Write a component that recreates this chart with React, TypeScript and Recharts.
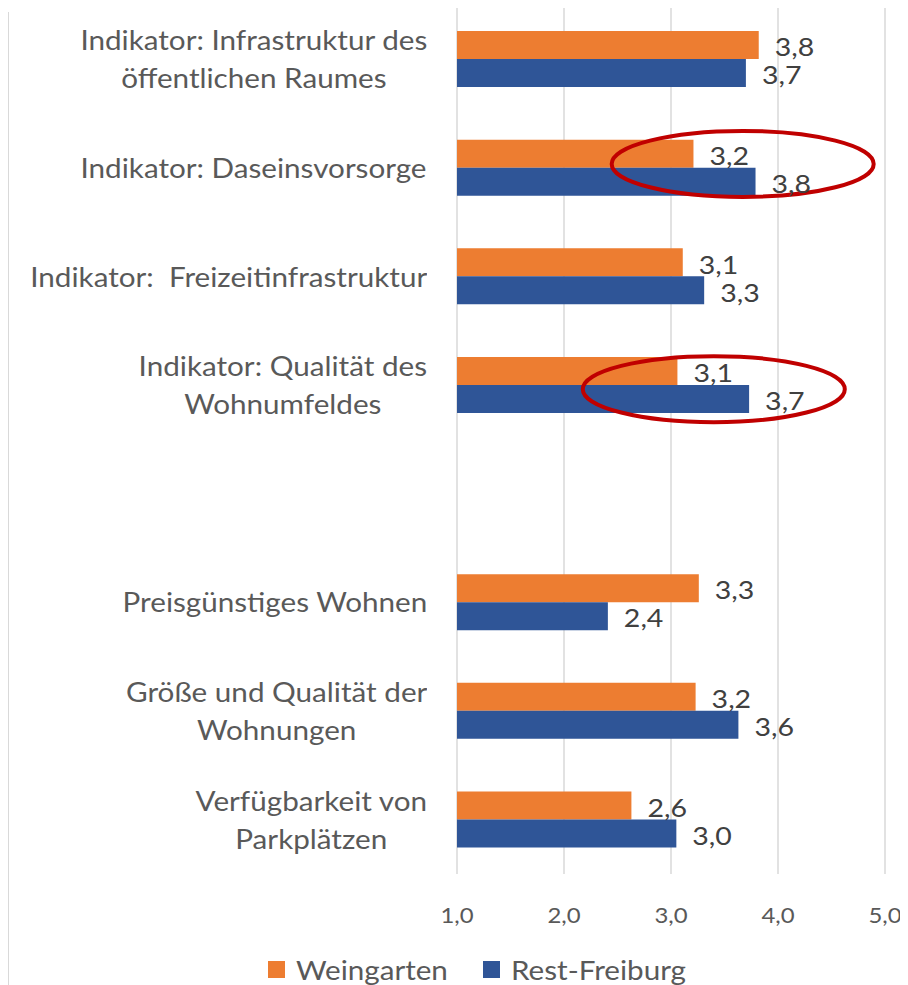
import React from 'react';
import { BarChart, Bar, XAxis, YAxis, CartesianGrid, Legend, LabelList, ReferenceDot } from 'recharts';

const categories = [
    'Indikator: Infrastruktur des\nöffentlichen Raumes',
    'Indikator: Daseinsvorsorge',
    'Indikator:  Freizeitinfrastruktur',
    'Indikator: Qualität des\nWohnumfeldes',
    '',
    'Preisgünstiges Wohnen',
    'Größe und Qualität der\nWohnungen',
    'Verfügbarkeit von\nParkplätzen',
];
const weingarten = [3.82, 3.21, 3.11, 3.06, null, 3.26, 3.23, 2.63];
const restFreiburg = [3.7, 3.79, 3.31, 3.73, null, 2.41, 3.63, 3.05];
const xTicks = [1, 2, 3, 4, 5];
const seriesNames = ['Weingarten', 'Rest-Freiburg'];

// highlighted rows (red ellipses), x in axis units
const highlights = [
    { cat: 'Indikator: Daseinsvorsorge', x: 3.67, dy: -4 },
    { cat: 'Indikator: Qualität des\nWohnumfeldes', x: 3.4, dy: 4 },
];

const orange = '#ED7D31';
const blue = '#2F5597';
const labelColor = '#595959';
const font = 'Lato, "Open Sans", sans-serif';
const stretch = 1.14; // reference text is a bit wider than Lato

const data = categories.map((name, i) => ({
    name,
    Weingarten: weingarten[i],
    'Rest-Freiburg': restFreiburg[i],
}));

const fmt = (v: number) => v.toFixed(1).replace('.', ',');

const CategoryTick = (props: any) => {
    const { y, payload } = props;
    const text: string = payload.value;
    if (!text) return null;
    return (
        <foreignObject x={0} y={y - 60} width={419} height={120}>
            <div style={{ width: 419, height: 120, display: 'flex', flexDirection: 'column', justifyContent: 'center', alignItems: 'flex-end' }}>
                <div style={{
                    textAlign: 'center', whiteSpace: 'pre', fontFamily: font, fontSize: 26, lineHeight: '38px',
                    color: labelColor, transform: `scaleX(${stretch})`, transformOrigin: 'right center',
                }}>
                    {text}
                </div>
            </div>
        </foreignObject>
    );
};

const ValueTick = (props: any) => {
    const { x, y, payload } = props;
    return (
        <g transform={`translate(${x},${y + 41}) scale(${stretch},1)`}>
            <text x={0} y={0} textAnchor="middle" dominantBaseline="central" fill={labelColor} fontSize={21} fontFamily={font}>
                {fmt(payload.value)}
            </text>
        </g>
    );
};

const BarValue = (props: any) => {
    const { x, y, width, height, value } = props;
    if (value == null) return null;
    return (
        <g transform={`translate(${x + width + 16},${y + height / 2 + 2}) scale(${stretch},1)`}>
            <text x={0} y={0} dominantBaseline="central" fill="#404040" fontSize={25} fontFamily={font}>
                {fmt(value)}
            </text>
        </g>
    );
};

const Ellipse = (dy: number) => (props: any) => (
    <ellipse cx={props.cx} cy={props.cy + dy} rx={131} ry={33} fill="none" stroke="#C00000" strokeWidth={4} />
);

const legendPos = [260, 475];
const LegendBox = () => (
    <svg width={900} height={41} style={{ display: 'block' }}>
        {seriesNames.map((n, i) => (
            <g key={n}>
                <rect x={legendPos[i]} y={17} width={17} height={17} fill={i === 0 ? orange : blue} />
                <g transform={`translate(${legendPos[i] + 28},26) scale(${stretch},1)`}>
                    <text x={0} y={0} dominantBaseline="central" fill={labelColor} fontSize={26} fontFamily={font}>{n}</text>
                </g>
            </g>
        ))}
    </svg>
);

const App: React.FC = () => {
    return (
        <div style={{ position: 'relative', width: 900, height: 980, marginTop: -3 }}>
            <div style={{ position: 'absolute', left: -1, top: 7, width: 2, height: 973, background: '#d9d9d9' }} />
            <BarChart width={900} height={980} data={data} layout="vertical" barGap={0}
                margin={{ top: 0, right: 23, left: 0, bottom: 0 }}>
                <CartesianGrid horizontal={false} stroke="#d9d9d9" strokeWidth={1.5} />
                <XAxis type="number" domain={[1, 5]} ticks={xTicks} axisLine={false} tickLine={false}
                    tickSize={0} tickMargin={0} height={70} tick={<ValueTick />} interval={0} />
                <YAxis type="category" dataKey="name" width={449} axisLine={false} tickLine={false}
                    tickSize={0} tickMargin={0} tick={<CategoryTick />} interval={0} />
                <Legend verticalAlign="bottom" height={41} content={<LegendBox />} />
                <Bar dataKey="Weingarten" fill={orange} barSize={28} isAnimationActive={false}>
                    <LabelList dataKey="Weingarten" content={<BarValue />} />
                </Bar>
                <Bar dataKey="Rest-Freiburg" fill={blue} barSize={28} isAnimationActive={false}>
                    <LabelList dataKey="Rest-Freiburg" content={<BarValue />} />
                </Bar>
                {highlights.map(h => (
                    <ReferenceDot key={h.cat} x={h.x} y={h.cat} r={1} shape={Ellipse(h.dy)} ifOverflow="visible" />
                ))}
            </BarChart>
        </div>
    );
};

export default App;
